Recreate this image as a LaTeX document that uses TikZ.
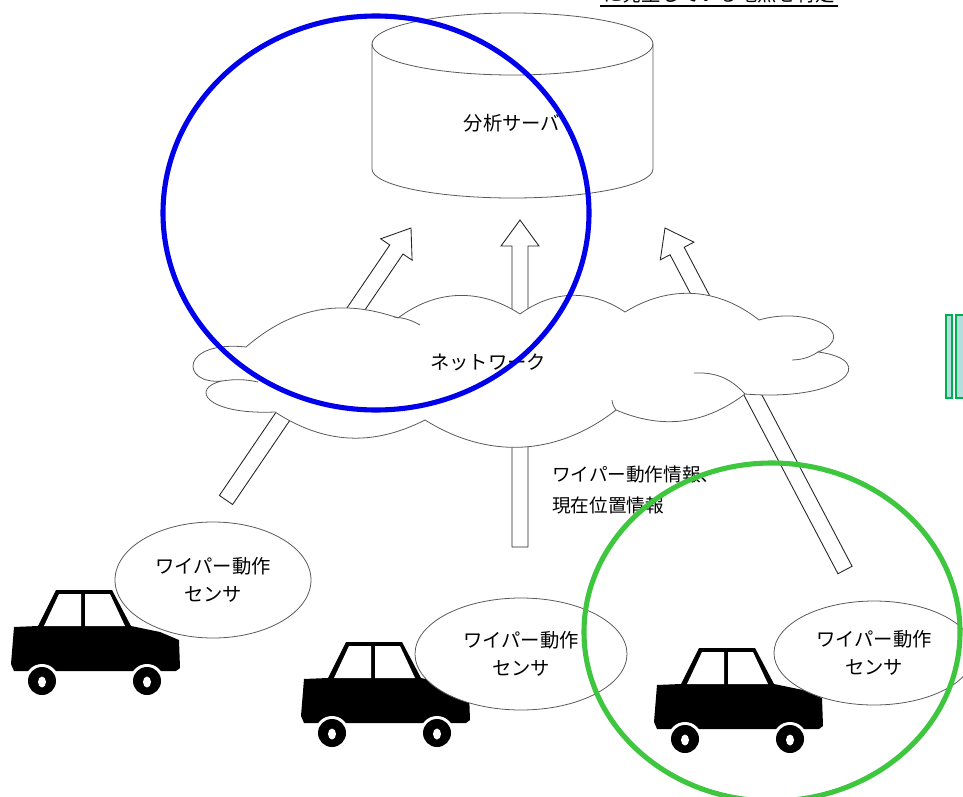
\documentclass[tikz,border=0pt]{standalone}
\usepackage{fontspec}
\setmainfont{Noto Sans CJK JP}
\usetikzlibrary{calc, positioning, shapes.geometric}

\definecolor{ringblue}{RGB}{0,0,235}
\definecolor{ringgreen}{RGB}{62,198,62}
\definecolor{barfill}{RGB}{178,222,222}
\definecolor{barline}{RGB}{0,176,80}

\tikzset{
  thinline/.style={draw=black!65, line width=0.45pt},
  arrowline/.style={draw=black!85, fill=white, line width=0.5pt},
  bubble/.style={thinline, fill=white, ellipse, align=center, font=\fontsize{11}{16}\selectfont},
  ring/.style={line width=2.9pt},
}

% hollow block arrow from tail #1 to tip #2
\newcommand{\blockarrow}[2]{%
  \coordinate (hb) at ($(#2)!0.52cm!(#1)$);
  \filldraw[arrowline] ($(#1)!0.16cm!-90:(#2)$) -- ($(hb)!0.16cm!-90:(#2)$)
    -- ($(hb)!0.38cm!-90:(#2)$) -- (#2) -- ($(hb)!0.38cm!90:(#2)$)
    -- ($(hb)!0.16cm!90:(#2)$) -- ($(#1)!0.16cm!90:(#2)$) -- cycle;}

% car silhouette, shifted from the first car
\newcommand{\car}[1]{%
  \begin{scope}[shift={#1}]
    \fill[black] (14,627) -- (38,626) -- (56,590) -- (112,590) -- (131,626)
      -- (160,632) -- (179,640) -- (180,668) -- (176,671) -- (14,671) -- (11,664) -- cycle;
    \fill[white] (44,626) -- (59,594) -- (81,594) -- (81,626) -- cycle;
    \fill[white] (85,594) -- (110,594) -- (125,626) -- (85,626) -- cycle;
    \foreach \wx in {42,147} {
      \fill[white] (\wx,681) circle (17);
      \fill[black] (\wx,681) circle (14);
      \fill[white] (\wx,682) ellipse (4 and 5.5);
    }
  \end{scope}}

\begin{document}
\begin{tikzpicture}[x=0.02cm, y=-0.02cm]
  \useasboundingbox (0,0) rectangle (963,797);

  % Arrow ends
  \coordinate (tailL) at (226,500);
  \coordinate (tipL) at (411,228);
  \coordinate (tailC) at (520,547);
  \coordinate (tipC) at (520,220);
  \coordinate (tailR) at (845,570);
  \coordinate (tipR) at (665,228);

  % Block arrows (partly hidden by the cloud)
  \blockarrow{tailL}{tipL}
  \blockarrow{tailC}{tipC}
  \blockarrow{tailR}{tipR}

  % Network cloud
  \filldraw[thinline, fill=white] (246,347) to[bend left=30] (398,318) to[bend left=35] (520,314)
    to[bend left=35] (625,312) to[bend left=35] (759,320)
    .. controls (810,305) and (860,335) .. (818,352)
    .. controls (880,360) and (845,402) .. (745,394)
    to[bend left=30] (616,410) to[bend left=35] (425,420) to[bend left=30] (275,412)
    .. controls (205,415) and (190,388) .. (222,381)
    .. controls (180,385) and (180,340) .. (246,347) -- cycle;
  \draw[thinline] (394,317) to[bend left=12] (420,325);
  \draw[thinline] (818,352) to[bend left=15] (792,360);
  \draw[thinline] (694,373) to[bend left=25] (745,394);
  \draw[thinline] (222,381) to[bend left=10] (258,382);
  \draw[thinline] (616,410) to[bend left=15] (612,400);
  \node (net) at (488,362) {\fontsize{11}{13}\selectfont ネットワーク};

  % Analysis server (cylinder)
  \filldraw[thinline, fill=white] (372,44) -- (372,169) arc[start angle=180, end angle=360, x radius=140.5, y radius=-29]
    -- (653,44) arc[start angle=0, end angle=180, x radius=140.5, y radius=-31] -- cycle;
  \draw[thinline] (372,44) arc[start angle=180, end angle=360, x radius=140.5, y radius=-31];
  \node (server) at (512,123) {\fontsize{11}{13}\selectfont 分析サーバ};

  % Cars
  \car{(0,0)}
  \car{(290,52)}
  \car{(643,58)}

  % Wiper sensors
  \node[bubble, minimum width=196*0.02cm, minimum height=116*0.02cm] (sensA) at (213,580) {ワイパー動作\\センサ};
  \node[bubble, minimum width=212*0.02cm, minimum height=112*0.02cm] (sensB) at (521,654) {ワイパー動作\\センサ};
  \node[bubble, minimum width=200*0.02cm, minimum height=104*0.02cm] (sensC) at (874,653) {ワイパー動作\\センサ};

  % Sent data
  \node[anchor=north west, align=left, font=\fontsize{10.6}{17.5}\selectfont] (info) at (546,460) {ワイパー動作情報、\\現在位置情報};

  % Highlight rings
  \draw[ring, ringblue] (376,213) ellipse (213 and 197);
  \draw[ring, ringgreen] (772,632) ellipse (188 and 169);

  % Bars at the right edge
  \filldraw[draw=barline, fill=barfill, line width=1pt] (946,315) rectangle (952,398);
  \filldraw[draw=barline, fill=barfill, line width=1pt] (956,315) rectangle (970,398);

  % Heading line at the top
  \node[anchor=base, font=\fontsize{11}{13}\selectfont, inner sep=0pt] (head) at (719,2) {に発生している地点を特定};
  \draw[line width=1pt] (600,6) -- (838,6);
\end{tikzpicture}
\end{document}
